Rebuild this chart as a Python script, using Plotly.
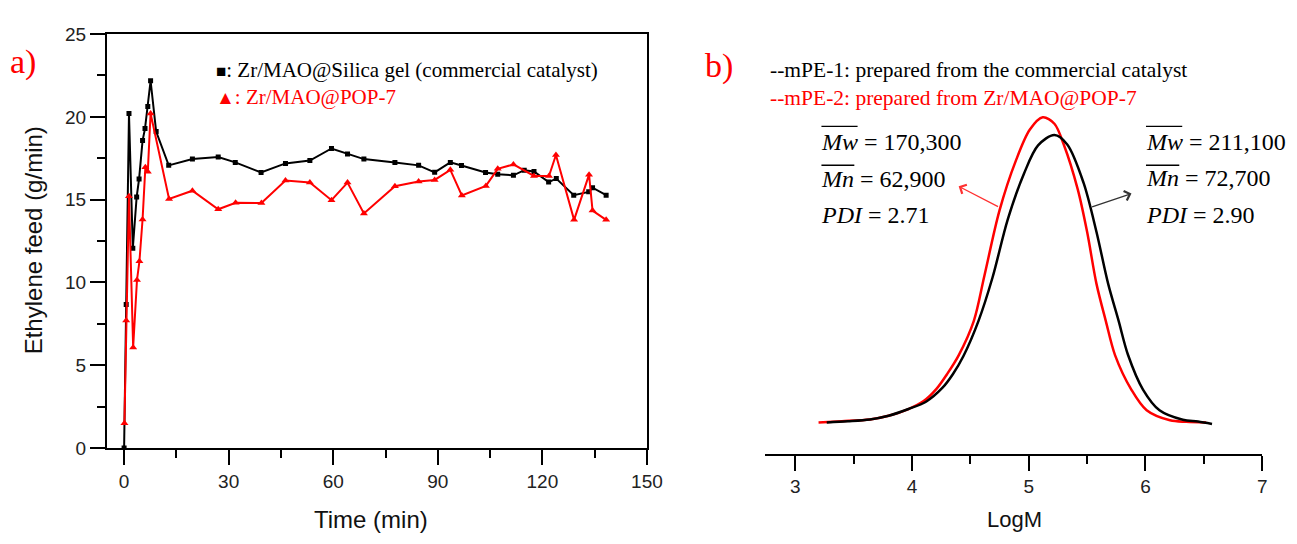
import plotly.graph_objects as go

W, H = 1297, 544

# ---------------- data: panel a) ----------------
time_silica = [0, 0.6, 1.4, 2.5, 3.6, 4.3, 5.3, 6.0, 6.8, 7.6, 9.2, 12.8, 19.6, 27.0, 31.9, 39.3, 46.3,
               53.3, 59.5, 64.1, 68.8, 77.7, 84.5, 89.1, 93.6, 96.8, 103.7, 107.2, 111.7, 114.8,
               117.6, 121.8, 124.0, 129.0, 133.3, 134.4, 138.3]
feed_silica = [0, 8.67, 20.2, 12.06, 15.16, 16.25, 18.57, 19.29, 20.63, 22.18, 19.11, 17.07, 17.46,
               17.58, 17.25, 16.64, 17.19, 17.36, 18.09, 17.76, 17.45, 17.24, 17.07, 16.65, 17.25,
               17.06, 16.64, 16.54, 16.47, 16.78, 16.70, 16.06, 16.27, 15.27, 15.47, 15.72, 15.27]

time_pop = [0.1, 0.6, 1.4, 2.6, 3.7, 4.4, 5.3, 6.1, 6.8, 7.6, 12.9, 19.6, 27.0, 32.0, 39.4, 46.3, 53.3,
            59.5, 64.1, 68.8, 77.7, 84.5, 89.1, 93.6, 96.9, 103.8, 107.2, 111.7, 117.6, 121.9, 123.9,
            129.1, 133.4, 134.4, 138.3]
feed_pop = [1.5, 7.7, 15.2, 6.08, 10.15, 11.28, 13.8, 16.96, 16.68, 20.2, 15.04, 15.54, 14.42, 14.81,
            14.8, 16.15, 16.04, 14.97, 16.03, 14.17, 15.81, 16.09, 16.19, 16.8, 15.25, 15.83, 16.86,
            17.13, 16.43, 16.43, 17.7, 13.78, 16.51, 14.34, 13.78]

# ---------------- data: panel b) ----------------
logm_pe1 = [3.27, 3.45, 3.64, 3.80, 3.97, 4.12, 4.26, 4.35, 4.44, 4.57, 4.69, 4.82, 4.96, 5.08, 5.22,
            5.33, 5.47, 5.58, 5.68, 5.77, 5.85, 5.98, 6.12, 6.32, 6.45, 6.57]
dist_pe1 = [0.0, 0.004, 0.010, 0.022, 0.044, 0.068, 0.113, 0.158, 0.217, 0.333, 0.475, 0.665, 0.816,
            0.908, 0.942, 0.911, 0.785, 0.625, 0.455, 0.333, 0.222, 0.107, 0.040, 0.009, 0.003, -0.005]

logm_pe2 = [3.20, 3.40, 3.64, 3.80, 3.97, 4.10, 4.21, 4.30, 4.40, 4.53, 4.62, 4.75, 4.89, 5.01, 5.12,
            5.22, 5.30, 5.42, 5.50, 5.58, 5.66, 5.74, 5.88, 6.01, 6.21, 6.35, 6.52]
dist_pe2 = [0.0, 0.004, 0.010, 0.022, 0.044, 0.070, 0.110, 0.158, 0.220, 0.333, 0.48, 0.695, 0.858,
            0.960, 1.0, 0.979, 0.911, 0.764, 0.625, 0.455, 0.333, 0.220, 0.107, 0.040, 0.007, 0.002, 0.0]

stats_pe2 = ["<i>Mw</i> = 170,300", "<i>Mn</i> = 62,900", "<i>PDI</i> = 2.71"]
stats_pe1 = ["<i>Mw</i> = 211,100", "<i>Mn</i> = 72,700", "<i>PDI</i> = 2.90"]

RED = "#ff0000"
SERIF = "Liberation Serif, Times New Roman, serif"
SANS = "Liberation Sans, Arial, sans-serif"


def px(x):
    return x / W


def py(y):
    return 1 - y / H


fig = go.Figure()

fig.add_trace(go.Scatter(x=time_silica, y=feed_silica, mode="lines+markers",
                         line=dict(color="black", width=2),
                         marker=dict(symbol="square", size=5, color="black"),
                         xaxis="x", yaxis="y", showlegend=False))
fig.add_trace(go.Scatter(x=time_pop, y=feed_pop, mode="lines+markers",
                         line=dict(color=RED, width=2),
                         marker=dict(symbol="triangle-up", size=7, color=RED),
                         xaxis="x", yaxis="y", showlegend=False))

fig.add_trace(go.Scatter(x=logm_pe2, y=dist_pe2, mode="lines",
                         line=dict(color=RED, width=2.5, shape="spline", smoothing=0.9),
                         xaxis="x2", yaxis="y2", showlegend=False))
fig.add_trace(go.Scatter(x=logm_pe1, y=dist_pe1, mode="lines",
                         line=dict(color="black", width=2.5, shape="spline", smoothing=0.9),
                         xaxis="x2", yaxis="y2", showlegend=False))

tickfont = dict(family=SANS, size=19, color="#222")

fig.update_layout(
    width=W, height=H,
    margin=dict(l=0, r=0, t=0, b=0),
    paper_bgcolor="white", plot_bgcolor="white",
    xaxis=dict(domain=[px(108), px(655)], range=[-5, 150], tick0=0, dtick=30,
               showline=True, linecolor="black", linewidth=1.5, mirror=True,
               ticks="outside", ticklen=15, tickwidth=1.5, tickcolor="black",
               minor=dict(dtick=15, tick0=0, ticks="outside", ticklen=8, tickwidth=1.5, tickcolor="black"),
               showgrid=False, zeroline=False, tickfont=tickfont, anchor="y"),
    yaxis=dict(domain=[py(455.7), py(25)], range=[0, 25], tick0=0, dtick=5,
               showline=True, linecolor="black", linewidth=1.5, mirror=True,
               ticks="outside", ticklen=15, tickwidth=1.5, tickcolor="black",
               minor=dict(dtick=2.5, tick0=0, ticks="outside", ticklen=8, tickwidth=1.5, tickcolor="black"),
               showgrid=False, zeroline=False, tickfont=tickfont, anchor="x"),
    xaxis2=dict(domain=[px(774.4), px(1278)], range=[2.74, 7.0], tick0=3, dtick=1,
                showline=True, linecolor="black", linewidth=1.5,
                ticks="outside", ticklen=15, tickwidth=1.5, tickcolor="black",
                minor=dict(dtick=0.5, tick0=3, ticks="outside", ticklen=8, tickwidth=1.5, tickcolor="black"),
                showgrid=False, zeroline=False, tickfont=tickfont, anchor="y2"),
    yaxis2=dict(domain=[py(461.7), py(25)], range=[-0.103, 1.273], visible=False,
                showgrid=False, zeroline=False, anchor="x2"),
)

ann = []


def text(x, y, s, size, color="black", family=SERIF, xanchor="center", angle=0):
    ann.append(dict(x=px(x), y=py(y), xref="paper", yref="paper", text=s, showarrow=False,
                    xanchor=xanchor, yanchor="middle", textangle=angle,
                    font=dict(family=family, size=size, color=color)))


# panel labels
text(23, 54, "a)", 34, RED)
text(728, 58, "b)", 34, RED)

# axis titles
text(34, 240, "Ethylene feed (g/min)", 24, "#111", SANS, angle=-90)
text(376, 530, "Time (min)", 24, "#111", SANS)
text(1027, 530, "LogM", 22, "#111", SANS)

# legend of panel a)
text(217, 62, '<span style="font-size:17px">■</span>: Zr/MAO@Silica gel (commercial catalyst)', 21,
     "black", xanchor="left")
text(217, 91, '<span style="font-size:19px">▲</span>: Zr/MAO@POP-7', 21, RED, xanchor="left")

# legend of panel b)
text(778, 62, "--mPE-1: prepared from the commercial catalyst", 21.5, "black", xanchor="left")
text(778, 92, "--mPE-2: prepared from Zr/MAO@POP-7", 21.5, RED, xanchor="left")

# statistics
for i, s in enumerate(stats_pe2):
    text(829, 137 + 38.3 * i, s, 24, "black", xanchor="left")
for i, s in enumerate(stats_pe1):
    text(1158, 137 + 38.2 * i, s, 24, "black", xanchor="left")

# arrows (tail on the curve, head toward the text)
ann.append(dict(x=4.40, y=0.774, ax=4.75, ay=0.705, xref="x2", yref="y2", axref="x2", ayref="y2",
                text="", showarrow=True, arrowhead=4, arrowsize=1.5, arrowwidth=1.3, arrowcolor="#ff3030"))
ann.append(dict(x=5.88, y=0.750, ax=5.53, ay=0.705, xref="x2", yref="y2", axref="x2", ayref="y2",
                text="", showarrow=True, arrowhead=4, arrowsize=1.5, arrowwidth=1.3, arrowcolor="#333"))

fig.update_layout(annotations=ann)

# overlines above Mw / Mn
shapes = []
for (x0, x1, y) in [(831.7, 868.3, 121), (831.7, 865, 161.5), (1160.3, 1197, 121), (1160.3, 1194, 161.5)]:
    shapes.append(dict(type="line", xref="paper", yref="paper", x0=px(x0), x1=px(x1), y0=py(y), y1=py(y),
                       line=dict(color="black", width=1.3)))
fig.update_layout(shapes=shapes)

fig.write_html("out.html")
